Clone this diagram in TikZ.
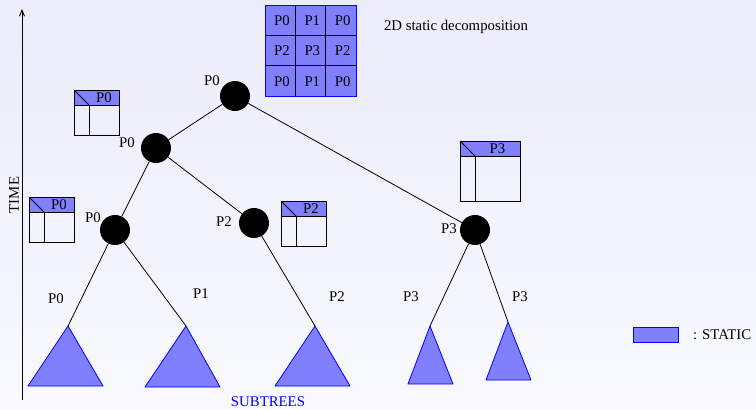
\documentclass[tikz,border=0pt]{standalone}
\usepackage{fontspec}
\setmainfont{Liberation Serif}
\usetikzlibrary{arrows.meta}
\definecolor{statblue}{RGB}{128,128,255}
\definecolor{bgtop}{RGB}{236,236,251}
\definecolor{bgbot}{RGB}{249,249,255}

\begin{document}
\begin{tikzpicture}[x=1pt, y=-1pt, >={Straight Barb[length=6pt,width=5pt]},
  every node/.style={font=\fontsize{14.8}{16}\selectfont, inner sep=1pt},
  proc/.style={circle, fill=black, minimum size=30pt, inner sep=0pt},
  edge/.style={black, line width=0.8pt},
  boxline/.style={black, line width=0.9pt},
  subtree/.style={fill=statblue, draw=blue, line width=0.8pt, line join=round}]
  % Background and frame of the picture
  \useasboundingbox (0,0) rectangle (756,410);
  \shade[top color=bgtop, bottom color=bgbot] (0,0) rectangle (756,410);

  % Time axis on the left
  \coordinate (tbot) at (22,400);
  \coordinate (ttop) at (22,9);
  \draw[->, line width=0.9pt] (tbot) -- (ttop);
  \node[rotate=90] (time) at (14,195) {TIME};

  % 2D static decomposition of the root front
  \fill[statblue] (265,5) rectangle (356,96);
  \foreach \k in {1,2} {
    \draw[boxline] (265+30.33*\k,5) -- ++(0,91);
    \draw[boxline] (265,5+30.33*\k) -- ++(91,0);
  }
  \draw[blue, line width=1pt] (265,5) rectangle (356,96);
  \foreach \c/\r/\p in {0/0/P0, 1/0/P1, 2/0/P0,
                        0/1/P2, 1/1/P3, 2/1/P2,
                        0/2/P0, 1/2/P1, 2/2/P0} {
    \node (g\c\r) at (282+30.33*\c, 20.5+30.33*\r) {\p};
  }
  \node (decomp) at (456,27) {2D static decomposition};

  % Tree nodes (processes)
  \node[proc] (root) at (235,96) {};
  \node[proc] (n1) at (156,148) {};
  \node[proc] (n2) at (115,230) {};
  \node[proc] (n3) at (254,223) {};
  \node[proc] (n4) at (475,230) {};
  \node (lroot) at (212,81) {P0};
  \node (ln1) at (127,143) {P0};
  \node (ln2) at (93,218) {P0};
  \node (ln3) at (224,222) {P2};
  \node (ln4) at (449,229) {P3};

  % Subtrees at the bottom
  \coordinate (t1) at (68,326);
  \coordinate (t2) at (186,326);
  \coordinate (t3) at (315,326);
  \coordinate (t4) at (430,326);
  \coordinate (t5) at (508,322);
  \filldraw[subtree] (t1) -- ++(-40,60) -- ++(75,0) -- cycle;
  \filldraw[subtree] (t2) -- ++(-41,61) -- ++(75,0) -- cycle;
  \filldraw[subtree] (t3) -- ++(-40,60) -- ++(75,0) -- cycle;
  \filldraw[subtree] (t4) -- ++(-22,58) -- ++(45,0) -- cycle;
  \filldraw[subtree] (t5) -- ++(-22,58) -- ++(45,0) -- cycle;
  \node[text=blue, inner sep=0pt] (subt) at (268,402) {SUBTREES};

  % Tree edges
  \draw[edge] (root) -- (n1);
  \draw[edge] (root) -- (n4);
  \draw[edge] (n1) -- (n2);
  \draw[edge] (n1) -- (n3);
  \draw[edge] (n2) -- (t1);
  \draw[edge] (n2) -- (t2);
  \draw[edge] (n3) -- (t3);
  \draw[edge] (n4) -- (t4);
  \draw[edge] (n4) -- (t5);
  \node (e1) at (56,299) {P0};
  \node (e2) at (201,294) {P1};
  \node (e3) at (337,297) {P2};
  \node (e4) at (411,297) {P3};
  \node (e5) at (520,297) {P3};

  % Frontal matrices with their master process
  \foreach \x/\y/\s/\p [count=\i] in {74/90/45/P0, 29/197/45/P0,
                                      281/201/45/P2, 460/141/60/P3} {
    \fill[statblue] (\x,\y) rectangle ++(\s,15);
    \draw[boxline] (\x,\y) rectangle ++(\s,\s);
    \draw[boxline] (\x,\y+15) -- ++(\s,0);
    \draw[boxline] (\x+15,\y+15) -- (\x+15,\y+\s);
    \draw[boxline] (\x,\y) -- (\x+15,\y+15);
    \node (fb\i) at (\x+7.5+\s/2,\y+7.5) {\p};
  }

  % Legend
  \filldraw[fill=statblue, draw=blue, line width=0.8pt] (633,327) rectangle (678,342);
  \node[anchor=west] (legend) at (692,335) {: STATIC};
\end{tikzpicture}
\end{document}
